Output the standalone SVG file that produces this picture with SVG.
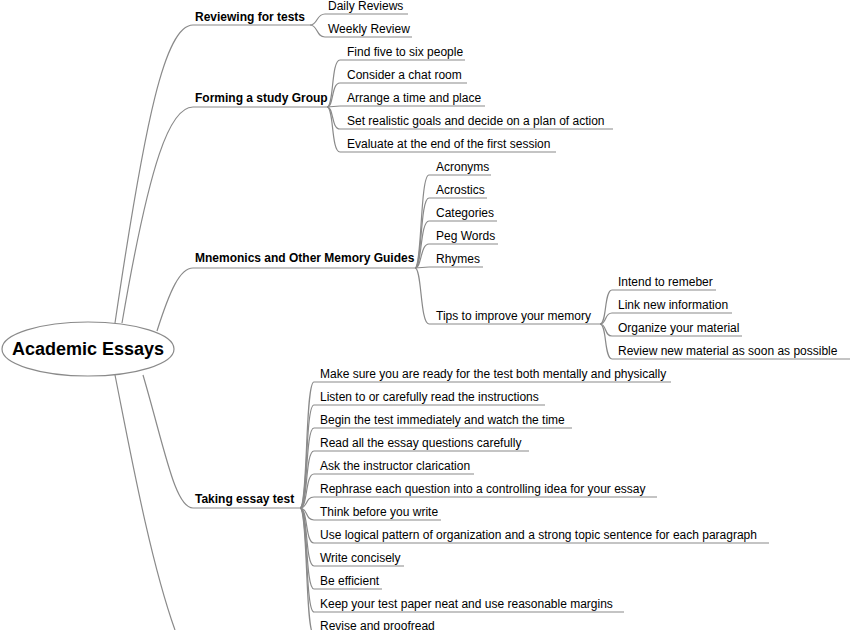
<svg xmlns="http://www.w3.org/2000/svg" width="850" height="630" viewBox="0 0 850 630">
<style>
text{font-family:"Liberation Sans",Arial,sans-serif;font-size:12px;fill:#000}
.b{font-weight:bold}
.r{font-weight:bold;font-size:18px}
path,line{fill:none;stroke:#8a8a8a;stroke-width:1.2}
</style>
<rect width="850" height="630" fill="#fff"/>
<g id="connectors">
<path d="M115,323 C145,120 165,25 193,25"/>
<path d="M122,323 C150,160 170,107 193,107"/>
<path d="M157,331 C170,290 180,268 193,268"/>
<path d="M143,375 C165,450 175,508 193,508"/>
<path d="M115,375 C130,450 150,560 175,630"/>
<path d="M310,25 C318,25 316,14 325,14"/><path d="M310,25 C318,25 316,37 325,37"/>
<path d="M327,107 C334,107 331,60 340,60"/><path d="M327,107 C334,107 331,83 340,83"/><path d="M327,107 L340,106"/><path d="M327,107 C334,107 331,129 340,129"/><path d="M327,107 C334,107 331,152 340,152"/>
<path d="M415,268 C422,268 420,175 429,175"/><path d="M415,268 C422,268 420,198 429,198"/><path d="M415,268 C422,268 420,221 429,221"/><path d="M415,268 C422,268 420,244 429,244"/><path d="M415,268 L429,267"/><path d="M415,268 C422,268 420,324 429,324"/>
<path d="M600,324 C607,324 604,290 612,290"/><path d="M600,324 C607,324 604,313 612,313"/><path d="M600,324 C607,324 604,336 612,336"/><path d="M600,324 C607,324 604,359 612,359"/>
<path d="M300,508 C308,508 305,382 314,382"/><path d="M300,508 C308,508 305,405 314,405"/><path d="M300,508 C308,508 305,428 314,428"/><path d="M300,508 C308,508 305,451 314,451"/><path d="M300,508 C308,508 305,474 314,474"/><path d="M300,508 C308,508 305,497 314,497"/><path d="M300,508 C308,508 305,520 314,520"/><path d="M300,508 C308,508 305,543 314,543"/><path d="M300,508 C308,508 305,566 314,566"/><path d="M300,508 C308,508 305,589 314,589"/><path d="M300,508 C308,508 305,612 314,612"/><path d="M300,508 C308,508 305,635 314,635"/>
</g>
<g id="root"><ellipse cx="88" cy="349" rx="86" ry="27" fill="#fff" stroke="#8a8a8a" stroke-width="1.2"/><text class="r" x="88" y="355" text-anchor="middle">Academic Essays</text></g>
<g id="n1"><line x1="193" y1="25" x2="310" y2="25"/><text class="b" x="195" y="21">Reviewing for tests</text></g>
<g id="n1a"><line x1="325" y1="14" x2="408" y2="14"/><text x="328" y="10">Daily Reviews</text></g>
<g id="n1b"><line x1="325" y1="37" x2="412" y2="37"/><text x="328" y="33">Weekly Review</text></g>
<g id="n2"><line x1="193" y1="107" x2="327" y2="107"/><text class="b" x="195" y="102">Forming a study Group</text></g>
<g id="n2a"><line x1="340" y1="60" x2="465" y2="60"/><text x="347" y="56">Find five to six people</text></g>
<g id="n2b"><line x1="340" y1="83" x2="467" y2="83"/><text x="347" y="79">Consider a chat room</text></g>
<g id="n2c"><line x1="340" y1="106" x2="485" y2="106"/><text x="347" y="102">Arrange a time and place</text></g>
<g id="n2d"><line x1="340" y1="129" x2="613" y2="129"/><text x="347" y="125">Set realistic goals and decide on a plan of action</text></g>
<g id="n2e"><line x1="340" y1="152" x2="556" y2="152"/><text x="347" y="148">Evaluate at the end of the first session</text></g>
<g id="n3"><line x1="193" y1="268" x2="415" y2="268"/><text class="b" x="195" y="262">Mnemonics and Other Memory Guides</text></g>
<g id="n3a"><line x1="429" y1="175" x2="491" y2="175"/><text x="436" y="171">Acronyms</text></g>
<g id="n3b"><line x1="429" y1="198" x2="487" y2="198"/><text x="436" y="194">Acrostics</text></g>
<g id="n3c"><line x1="429" y1="221" x2="497" y2="221"/><text x="436" y="217">Categories</text></g>
<g id="n3d"><line x1="429" y1="244" x2="498" y2="244"/><text x="436" y="240">Peg Words</text></g>
<g id="n3e"><line x1="429" y1="267" x2="483" y2="267"/><text x="436" y="263">Rhymes</text></g>
<g id="n3f"><line x1="429" y1="324" x2="600" y2="324"/><text x="436" y="320">Tips to improve your memory</text></g>
<g id="n3f1"><line x1="612" y1="290" x2="716" y2="290"/><text x="618" y="286">Intend to remeber</text></g>
<g id="n3f2"><line x1="612" y1="313" x2="732" y2="313"/><text x="618" y="309">Link new information</text></g>
<g id="n3f3"><line x1="612" y1="336" x2="742" y2="336"/><text x="618" y="332">Organize your material</text></g>
<g id="n3f4"><line x1="612" y1="359" x2="850" y2="359"/><text x="618" y="355">Review new material as soon as possible</text></g>
<g id="n4"><line x1="193" y1="508" x2="300" y2="508"/><text class="b" x="195" y="503">Taking essay test</text></g>
<g id="n4a"><line x1="314" y1="382" x2="671" y2="382"/><text x="320" y="378">Make sure you are ready for the test both mentally and physically</text></g>
<g id="n4b"><line x1="314" y1="405" x2="545" y2="405"/><text x="320" y="401">Listen to or carefully read the instructions</text></g>
<g id="n4c"><line x1="314" y1="428" x2="572" y2="428"/><text x="320" y="424">Begin the test immediately and watch the time</text></g>
<g id="n4d"><line x1="314" y1="451" x2="529" y2="451"/><text x="320" y="447">Read all the essay questions carefully</text></g>
<g id="n4e"><line x1="314" y1="474" x2="474" y2="474"/><text x="320" y="470">Ask the instructor clarication</text></g>
<g id="n4f"><line x1="314" y1="497" x2="657" y2="497"/><text x="320" y="493">Rephrase each question into a controlling idea for your essay</text></g>
<g id="n4g"><line x1="314" y1="520" x2="441" y2="520"/><text x="320" y="516">Think before you write</text></g>
<g id="n4h"><line x1="314" y1="543" x2="769" y2="543"/><text x="320" y="539">Use logical pattern of organization and a strong topic sentence for each paragraph</text></g>
<g id="n4i"><line x1="314" y1="566" x2="404" y2="566"/><text x="320" y="562">Write concisely</text></g>
<g id="n4j"><line x1="314" y1="589" x2="382" y2="589"/><text x="320" y="585">Be efficient</text></g>
<g id="n4k"><line x1="314" y1="612" x2="624" y2="612"/><text x="320" y="608">Keep your test paper neat and use reasonable margins</text></g>
<g id="n4l"><line x1="314" y1="635" x2="440" y2="635"/><text x="320" y="630">Revise and proofread</text></g>
</svg>
